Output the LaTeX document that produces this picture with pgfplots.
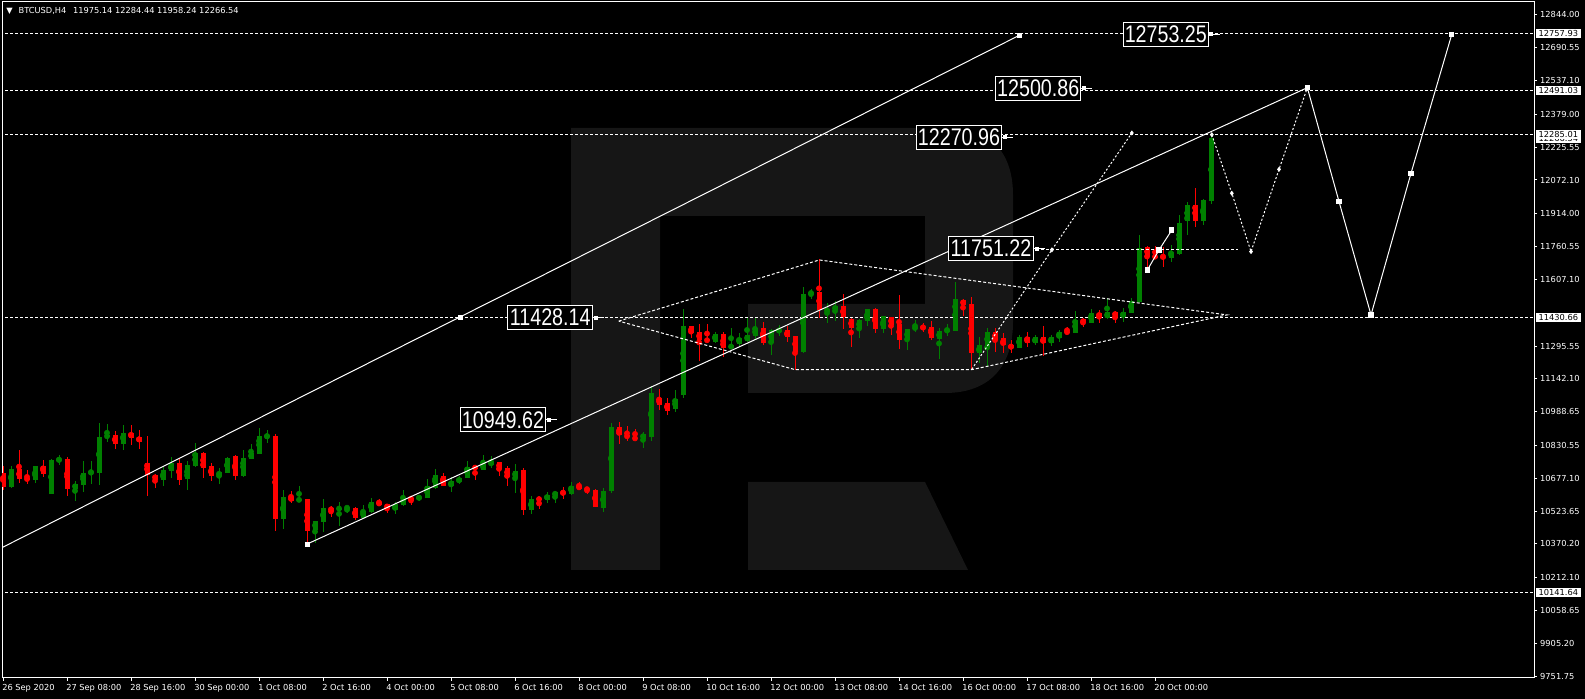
\documentclass[border=0pt]{standalone}
\usepackage{pgfplots}
\pgfplotsset{compat=1.18}
\usepackage{pgfplotstable}
\usepackage{graphicx}
\usepackage{fontspec}
\setmainfont{DejaVu Sans}
\newfontfamily\lblfont{Liberation Sans}
\definecolor{cgreen}{RGB}{0,128,0}
\definecolor{cred}{RGB}{255,0,0}
\definecolor{wm}{RGB}{22,22,22}

% H4 candles, i = bar index from 26 Sep 2020 00:00
\pgfplotstableread{
i o h l c
0 10703 10734 10622 10635
1 10636 10734 10633 10720
2 10720 10809 10653 10673
3 10678 10716 10650 10669
4 10670 10734 10653 10734
5 10734 10762 10684 10698
6 10605 10765 10602 10762
7 10759 10786 10741 10767
8 10767 10776 10594 10628
9 10628 10664 10572 10650
10 10647 10758 10614 10702
11 10703 10758 10649 10708
12 10703 10935 10647 10870
13 10868 10931 10848 10879
14 10879 10898 10815 10839
15 10839 10926 10811 10889
16 10889 10926 10834 10867
17 10870 10903 10815 10848
18 10748 10875 10596 10691
19 10692 10697 10633 10670
20 10670 10730 10642 10716
21 10712 10776 10678 10748
22 10748 10767 10647 10670
23 10675 10758 10624 10739
24 10734 10842 10731 10795
25 10795 10800 10680 10727
26 10734 10748 10666 10689
27 10689 10725 10652 10706
28 10703 10775 10700 10772
29 10781 10786 10669 10689
30 10689 10809 10684 10772
31 10769 10837 10766 10795
32 10792 10912 10790 10875
33 10872 10903 10843 10876
34 10875 10884 10432 10488
35 10488 10622 10441 10589
36 10589 10617 10563 10572
37 10572 10641 10567 10580
38 10580 10582 10371 10432
39 10436 10479 10376 10477
40 10474 10580 10427 10538
41 10538 10547 10497 10525
42 10532 10566 10455 10538
43 10535 10547 10513 10543
44 10538 10543 10483 10493
45 10493 10552 10488 10524
46 10521 10585 10516 10566
47 10566 10580 10547 10552
48 10557 10558 10514 10533
49 10528 10566 10511 10557
50 10552 10622 10549 10585
51 10585 10594 10553 10578
52 10581 10599 10572 10591
53 10586 10672 10584 10641
54 10633 10720 10625 10692
55 10687 10702 10641 10642
56 10642 10683 10614 10664
57 10659 10687 10649 10678
58 10680 10758 10678 10730
59 10733 10734 10670 10720
60 10717 10784 10716 10745
61 10741 10781 10725 10753
62 10753 10755 10687 10720
63 10725 10734 10642 10684
64 10680 10744 10610 10711
65 10716 10725 10505 10530
66 10530 10594 10511 10580
67 10581 10584 10535 10578
68 10577 10613 10563 10599
69 10595 10617 10563 10613
70 10613 10636 10581 10606
71 10605 10659 10600 10641
72 10641 10659 10624 10628
73 10628 10636 10605 10624
74 10622 10627 10542 10544
75 10539 10631 10521 10617
76 10617 10935 10610 10917
77 10917 10940 10839 10881
78 10879 10921 10853 10868
79 10865 10907 10861 10862
80 10862 10893 10820 10884
81 10871 11109 10853 11076
82 11052 11094 10996 11020
83 11029 11052 10973 10992
84 11001 11090 10987 11048
85 11066 11469 11052 11389
86 11389 11391 11335 11355
87 11361 11399 11227 11324
88 11328 11399 11308 11317
89 11314 11361 11312 11352
90 11352 11361 11246 11286
91 11286 11380 11284 11300
92 11305 11356 11292 11333
93 11319 11427 11314 11347
94 11342 11427 11324 11380
95 11380 11408 11300 11310
96 11310 11375 11253 11370
97 11366 11394 11342 11370
98 11370 11389 11314 11338
99 11342 11343 11183 11268
100 11268 11572 11263 11539
101 11539 11562 11515 11548
102 11548 11703 11427 11464
103 11455 11497 11403 11469
104 11464 11506 11413 11483
105 11483 11539 11375 11431
106 11422 11427 11291 11381
107 11377 11422 11333 11417
108 11412 11470 11389 11469
109 11469 11473 11356 11375
110 11375 11438 11356 11436
111 11431 11433 11347 11394
112 11399 11534 11282 11324
113 11324 11376 11277 11375
114 11375 11417 11361 11385
115 11385 11403 11361 11380
116 11385 11413 11324 11333
117 11328 11380 11235 11366
118 11366 11399 11342 11370
119 11366 11595 11364 11515
120 11511 11515 11436 11487
121 11492 11526 11185 11261
122 11261 11339 11215 11300
123 11292 11378 11199 11363
124 11363 11378 11269 11324
125 11331 11355 11264 11300
126 11300 11324 11261 11285
127 11288 11347 11285 11339
128 11336 11363 11292 11308
129 11308 11347 11300 11336
130 11336 11389 11250 11311
131 11311 11347 11296 11339
132 11335 11370 11316 11363
133 11363 11383 11355 11358
134 11358 11461 11356 11417
135 11420 11425 11386 11402
136 11405 11467 11402 11451
137 11451 11464 11402 11430
138 11425 11519 11423 11456
139 11456 11458 11402 11433
140 11430 11472 11409 11456
141 11451 11519 11448 11506
142 11503 11815 11498 11752
143 11760 11762 11667 11714
144 11718 11763 11706 11709
145 11714 11760 11667 11710
146 11709 11768 11690 11737
147 11724 11908 11721 11869
148 11880 11971 11815 11955
149 11955 12033 11851 11880
150 11882 11982 11862 11979
151 11975.14 12284.44 11958.24 12266.54
}\candles

\pgfplotsset{
  lvl/.style={white, line width=0.75pt, dash pattern=on 2.25pt off 1.5pt},
  up/.style={restrict expr to domain={\thisrow{c}-\thisrow{o}}{0:100000}},
  down/.style={restrict expr to domain={\thisrow{c}-\thisrow{o}}{-100000:-0.001}},
  wick/.style={only marks, mark=none, forget plot,
    error bars/.cd, y dir=both, y explicit, error mark=none,
    error bar style={line width=0.75pt, #1}},
  body/.style={only marks, mark=none, forget plot,
    error bars/.cd, y dir=both, y explicit, error mark=none,
    error bar style={line width=3.75pt, #1}},
}
\tikzset{
  lbl/.style={draw=white, line width=0.75pt, fill=black, text=white, inner sep=0pt,
    minimum width=63.75pt, minimum height=18pt, font=\lblfont\fontsize{18}{18}\selectfont},
  pbox/.style={fill=white, text=black, inner xsep=1.8pt, inner ysep=1.1pt,
    font=\fontsize{6.2}{7}\selectfont},
}

\begin{document}
\begin{tikzpicture}
\fill[black] (0,0) rectangle (1188.75pt,524.25pt);
% watermark logo
\begin{scope}[shift={(0,524.25pt)}, x=0.75pt, y=-0.75pt]
\fill[wm] (571,570) -- (571,128) -- (950,128) .. controls (990,128) and (1013,152) .. (1013,195)
  -- (1013,322) .. controls (1013,366) and (990,393) .. (945,393) -- (748,393) -- (748,304)
  -- (925,304) -- (925,216) -- (660,216) -- (660,570) -- cycle;
\fill[wm] (748,482) -- (925,482) -- (968,570) -- (748,570) -- cycle;
\end{scope}

\begin{axis}[
  at={(1.5pt,15.75pt)}, anchor=south west,
  scale only axis, width=1149pt, height=507pt,
  xmin=-0.125, xmax=191.375, ymin=9742.5, ymax=12904.8,
  clip mode=individual,
  scaled ticks=false,
  axis line style={white, line width=0.75pt},
  tick style={white, line width=0.75pt},
  major tick length=2.25pt, tick align=outside,
  xtick pos=left, ytick pos=right,
  xticklabel pos=left, yticklabel pos=right,
  xtick={0,8,...,144},
  xticklabels={26 Sep 2020,27 Sep 08:00,28 Sep 16:00,30 Sep 00:00,1 Oct 08:00,2 Oct 16:00,
    4 Oct 00:00,5 Oct 08:00,6 Oct 16:00,8 Oct 00:00,9 Oct 08:00,10 Oct 16:00,12 Oct 00:00,
    13 Oct 08:00,14 Oct 16:00,16 Oct 00:00,17 Oct 08:00,18 Oct 16:00,20 Oct 00:00},
  ytick={12844,12690.55,12537.10,12379,12225.55,12072.10,11914,11760.55,11607.10,11295.55,
    11142.10,10988.65,10830.55,10677.10,10523.65,10370.20,10212.10,10058.65,9905.20,9751.75},
  yticklabels={12844.00,12690.55,12537.10,12379.00,12225.55,12072.10,11914.00,11760.55,11607.10,
    11295.55,11142.10,10988.65,10830.55,10677.10,10523.65,10370.20,10212.10,10058.65,9905.20,9751.75},
  ticklabel style={font=\fontsize{6.2}{7}\selectfont, text=white, inner sep=0pt},
  yticklabel style={anchor=west, xshift=2.2pt},
  xticklabel style={anchor=north west, xshift=-0.75pt, yshift=-2.6pt},
]
% horizontal levels
\addplot[lvl] coordinates {(-1,12757.93) (192,12757.93)};
\addplot[lvl] coordinates {(-1,12491.03) (192,12491.03)};
\addplot[lvl] coordinates {(-1,12285.01) (192,12285.01)};
\addplot[lvl] coordinates {(-1,11430.66) (192,11430.66)};
\addplot[lvl] coordinates {(-1,10141.64) (192,10141.64)};

% candles
\addplot[cgreen, up, wick=cgreen]
  table[x=i, y expr={(\thisrow{h}+\thisrow{l})/2}, y error expr={(\thisrow{h}-\thisrow{l})/2}] {\candles};
\addplot[cgreen, up, body=cgreen]
  table[x=i, y expr={(\thisrow{o}+\thisrow{c})/2}, y error expr={max(abs(\thisrow{c}-\thisrow{o})/2,1.8)}] {\candles};
\addplot[cred, down, wick=cred]
  table[x=i, y expr={(\thisrow{h}+\thisrow{l})/2}, y error expr={(\thisrow{h}-\thisrow{l})/2}] {\candles};
\addplot[cred, down, body=cred]
  table[x=i, y expr={(\thisrow{o}+\thisrow{c})/2}, y error expr={max(abs(\thisrow{c}-\thisrow{o})/2,1.8)}] {\candles};

% channel lines
\addplot[white, line width=0.75pt] coordinates {(-1,10336) (127,12748)};
\addplot[white, only marks, mark=square*, mark size=1.6pt] coordinates {(57.125,11431) (127,12748)};
\addplot[white, line width=0.75pt] coordinates {(38,10369) (163.04,12504)};
\addplot[white, only marks, mark=square*, mark size=1.6pt] coordinates {(38,10369)};

% triangle pattern
\addplot[white, line width=0.75pt, dash pattern=on 2.25pt off 1.5pt]
  coordinates {(76.96,11412) (102.04,11698) (153,11441) (121.1,11185) (99,11185) (76.96,11412)};
\addplot[white, line width=0.75pt, dash pattern=on 1.5pt off 1.5pt,
  mark=diamond*, mark size=1.3pt, mark options={solid}, mark indices={2,3}]
  coordinates {(121.1,11187) (131.1,11745) (141.1,12292)};
\addplot[white, line width=0.75pt, dash pattern=on 2.25pt off 1.5pt]
  coordinates {(129.1,11748) (154.4,11748)};

% forecast
\addplot[white, line width=0.75pt, dash pattern=on 1.5pt off 1.5pt,
  mark=diamond*, mark size=1.3pt, mark options={solid}, mark indices={1,2,3,4}]
  coordinates {(151.1,12284) (153.6,12010) (156,11737) (159.5,12122) (163.04,12504)};
\addplot[white, line width=0.75pt, mark=square*, mark size=1.6pt]
  coordinates {(163.04,12504) (167,11971) (171,11441) (176,12104) (181.1,12754)};
\addplot[white, line width=0.75pt, mark=square*, mark size=1.6pt]
  coordinates {(143.04,11651) (144.5,11745) (146.1,11838)};

% level labels
\node[lbl] (L1) at (axis cs:145.35,12753.25) {\scalebox{0.82}[1]{12753.25}};
\node[lbl] (L2) at (axis cs:129.4,12500.86) {\scalebox{0.82}[1]{12500.86}};
\node[lbl] (L3) at (axis cs:119.5,12270.96) {\scalebox{0.82}[1]{12270.96}};
\node[lbl] (L4) at (axis cs:123.5,11751.22) {\scalebox{0.82}[1]{11751.22}};
\node[lbl] (L5) at (axis cs:68.4,11428.14) {\scalebox{0.82}[1]{11428.14}};
\node[lbl] (L6) at (axis cs:62.5,10949.62) {\scalebox{0.82}[1]{10949.62}};

\coordinate (pA) at (axis cs:191.375,12757.93);
\coordinate (pB) at (axis cs:191.375,12491.03);
\coordinate (pC) at (axis cs:191.375,12266.54);
\coordinate (pD) at (axis cs:191.375,12285.01);
\coordinate (pE) at (axis cs:191.375,11430.66);
\coordinate (pF) at (axis cs:191.375,10141.64);
\end{axis}

% connectors beside the level labels
\foreach \n in {L1,L2,L3,L4,L5,L6}{
  \draw[white, line width=0.75pt] (\n.east) -- ++(8.25pt,0);
  \fill[white] ([xshift=0.5pt]\n.east) ++(0,-1.5pt) rectangle ++(3pt,3pt);
}

% price boxes on the scale
\node[pbox, anchor=west] at ([xshift=1.5pt]pA) {12757.93};
\node[pbox, anchor=west] at ([xshift=1.5pt]pB) {12491.03};
\node[pbox, anchor=west] at ([xshift=1.5pt]pC) {12266.54};
\node[pbox, anchor=west] at ([xshift=1.5pt]pD) {12285.01};
\node[pbox, anchor=west] at ([xshift=1.5pt]pE) {11430.66};
\node[pbox, anchor=west] at ([xshift=1.5pt]pF) {10141.64};

% header
\begin{scope}[shift={(0,524.25pt)}, x=0.75pt, y=-0.75pt]
\node[anchor=base west, inner sep=0pt, text=white, font=\fontsize{6.2}{7}\selectfont]
  at (6,13.5) {▼\hspace{4.5pt}BTCUSD,H4\hspace{5pt}11975.14 12284.44 11958.24 12266.54};
\end{scope}

\pgfresetboundingbox
\useasboundingbox (0,0) rectangle (1188.75pt,524.25pt);
\end{tikzpicture}
\end{document}
